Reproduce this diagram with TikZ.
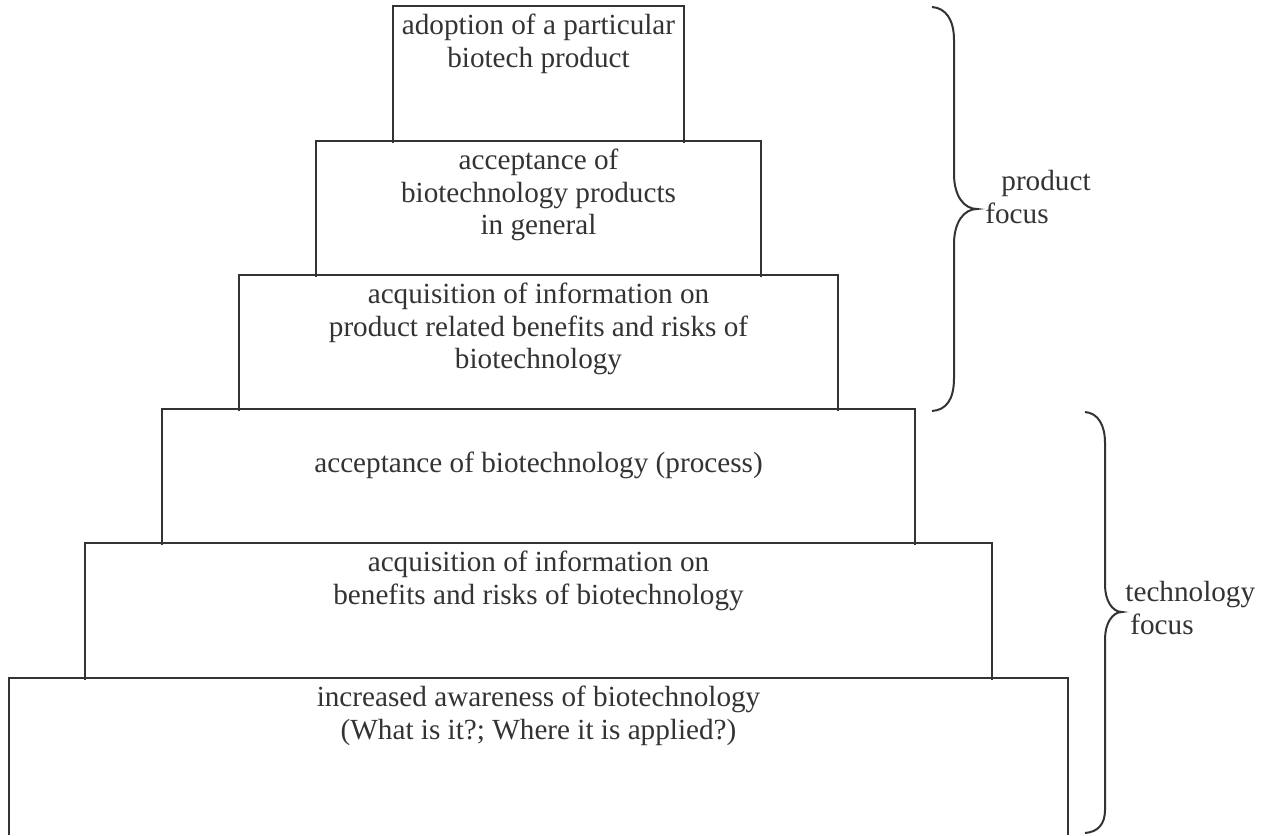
\documentclass[tikz,border=0pt]{standalone}
\usepackage{fontspec}
\setmainfont{Liberation Serif}
\definecolor{tinta}{HTML}{333333}
\begin{document}
\begin{tikzpicture}[x=0.5pt, y=-0.5pt,
    caja/.style={draw=tinta, line width=0.6pt},
    llave/.style={draw=tinta, line width=1pt},
    rotulo/.style={anchor=north, inner sep=0pt, align=center, text=tinta, font=\fontsize{14.6}{16.2}\selectfont}]
        \useasboundingbox (0,0) rectangle (1267,835);
        % escalones de la piramide
        \draw[caja] (393,143) -- (393,6) -- (684,6) -- (684,143);
        \draw[caja] (316,277) -- (316,141) -- (761,141) -- (761,277);
        \draw[caja] (239,411) -- (239,275) -- (838,275) -- (838,411);
        \draw[caja] (162,545) -- (162,409) -- (915,409) -- (915,545);
        \draw[caja] (85,680) -- (85,543) -- (992,543) -- (992,680);
        \draw[caja] (9,835) -- (9,678) -- (1068,678) -- (1068,835);
        % textos de los escalones
        \node[rotulo] (adopcion) at (538.5,14) {adoption of a particular\\biotech product};
        \node[rotulo] (aceptprod) at (538.5,149) {acceptance of\\biotechnology products\\in general};
        \node[rotulo] (infoprod) at (538.5,283) {acquisition of information on\\product related benefits and risks of\\biotechnology};
        \node[rotulo] (aceptproc) at (538.5,452) {acceptance of biotechnology (process)};
        \node[rotulo] (infotec) at (538.5,551) {acquisition of information on\\benefits and risks of biotechnology};
        \node[rotulo] (conciencia) at (538.5,686) {increased awareness of biotechnology\\(What is it?; Where it is applied?)};
        % llave superior
        \draw[llave] (932,7) .. controls (946,8) and (954,20) .. (954,40) -- (954,174)
            .. controls (954,196) and (964,209) .. (977,209)
            .. controls (964,209) and (954,222) .. (954,244) -- (954,378)
            .. controls (954,400) and (946,410) .. (932,411);
        \node[rotulo, anchor=north west, align=left] (enfprod) at (985,170) {\hspace*{8pt}product\\focus};
        % llave inferior
        \draw[llave] (1085,412) .. controls (1098,413) and (1105,425) .. (1105,443) -- (1105,585)
            .. controls (1105,600) and (1112,612) .. (1122,612)
            .. controls (1112,612) and (1105,624) .. (1105,639) -- (1105,810)
            .. controls (1105,824) and (1098,832) .. (1085,833);
        \node[rotulo, anchor=north west, align=left] (enftec) at (1125,581) {technology\\\hspace*{2.5pt}focus};
    \end{tikzpicture}
\end{document}
